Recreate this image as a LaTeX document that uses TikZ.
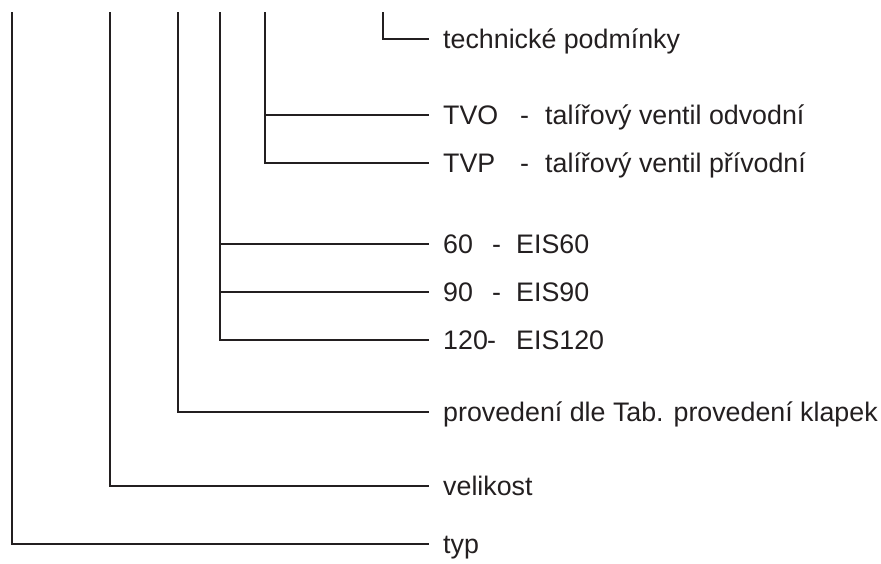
\documentclass[tikz,border=0pt]{standalone}
\usepackage{fontspec}
\setmainfont{Liberation Sans}
\definecolor{ink}{HTML}{231F20}
\begin{document}
\begin{tikzpicture}[x=1pt,y=-1pt,
  conn/.style={draw=ink,line width=1.9pt,line cap=rect},
  lbl/.style={anchor=base west,inner sep=0pt,text=ink,font=\fontsize{26.8}{30}\selectfont}]
\useasboundingbox (0,0) rectangle (881,563);
% top ends of the vertical lines
\coordinate (tA) at (12,13);
\coordinate (tB) at (110,13);
\coordinate (tC) at (178,13);
\coordinate (tD) at (220,13);
\coordinate (tE) at (265,13);
\coordinate (tF) at (383,13);
% right ends of the horizontal lines
\coordinate (eF) at (428,39);
\coordinate (eE1) at (428,115);
\coordinate (eE2) at (428,163);
\coordinate (eD1) at (428,244);
\coordinate (eD2) at (428,292);
\coordinate (eD3) at (428,340);
\coordinate (eC) at (428,412);
\coordinate (eB) at (428,486);
\coordinate (eA) at (428,544);
% labels
\node[lbl] (tp) at (443,48) {technické podmínky};
\node[lbl] (tvo) at (443,124) {\makebox[77pt][l]{TVO}\makebox[25pt][l]{-}talířový ventil odvodní};
\node[lbl] (tvp) at (443,172) {\makebox[77pt][l]{TVP}\makebox[25pt][l]{-}talířový ventil přívodní};
\node[lbl] (s60) at (443,253) {\makebox[49pt][l]{60}\makebox[24pt][l]{-}EIS60};
\node[lbl] (s90) at (443,301) {\makebox[49pt][l]{90}\makebox[24pt][l]{-}EIS90};
\node[lbl] (s120) at (443,349) {\makebox[44pt][l]{120}\makebox[29pt][l]{-}EIS120};
\node[lbl] (prov) at (443,421) {provedení dle Tab. provedení klapek};
\node[lbl] (vel) at (443,495) {velikost};
\node[lbl] (typ) at (443,553) {typ};
% connectors
\draw[conn] (tF) |- (eF);
\draw[conn] (tE) |- (eE2);
\draw[conn] (tE |- eE1) -- (eE1);
\draw[conn] (tD) |- (eD3);
\draw[conn] (tD |- eD1) -- (eD1);
\draw[conn] (tD |- eD2) -- (eD2);
\draw[conn] (tC) |- (eC);
\draw[conn] (tB) |- (eB);
\draw[conn] (tA) |- (eA);
\end{tikzpicture}
\end{document}
